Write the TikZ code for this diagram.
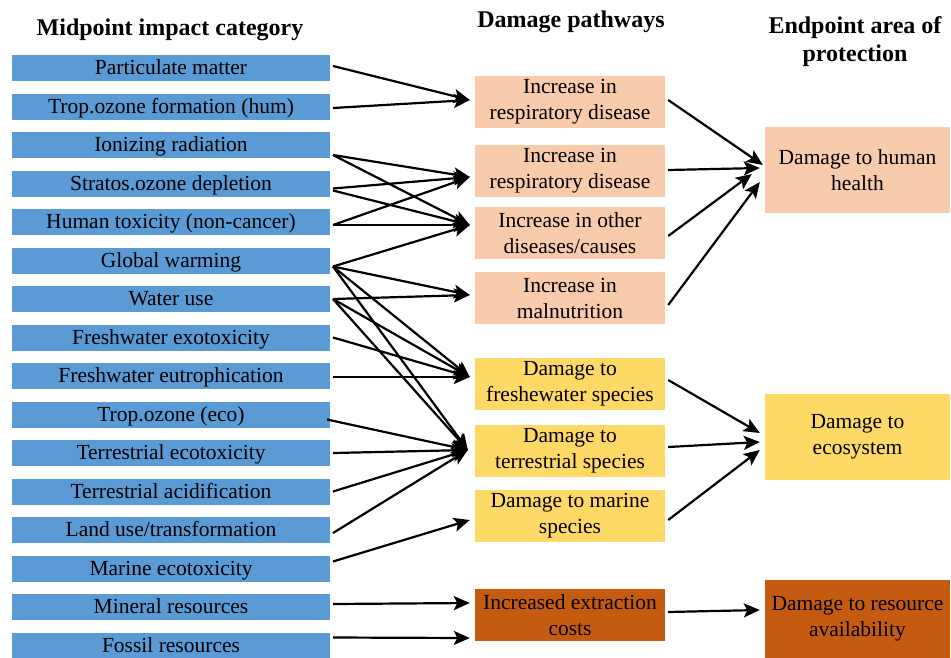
\documentclass[tikz,border=0pt]{standalone}
\usepackage{fontspec}
\setmainfont{Liberation Serif}
\usetikzlibrary{positioning,arrows.meta}

\definecolor{midblue}{RGB}{91,155,213}
\definecolor{humanpeach}{RGB}{248,203,173}
\definecolor{ecoyellow}{RGB}{255,217,102}
\definecolor{resorange}{RGB}{197,90,17}

\begin{document}
\begin{tikzpicture}[x=1pt, y=-1pt, node distance=12.5pt,
        midbox/.style={fill=midblue, minimum width=318pt, minimum height=26pt, inner sep=0pt,
            outer sep=0pt, text height=16.5pt, text depth=3.5pt, font=\fontsize{21.5}{26}\selectfont},
        pathbox/.style={minimum width=190pt, minimum height=52pt, inner sep=0pt, align=center,
            font=\fontsize{21.5}{26}\selectfont},
        endbox/.style={minimum width=185pt, minimum height=86pt, inner sep=0pt, align=center,
            font=\fontsize{21.5}{26}\selectfont},
        heading/.style={align=center, font=\bfseries\fontsize{24}{28}\selectfont},
        link/.style={line width=2.2pt, -{Stealth[length=16pt, width=14pt, inset=3.5pt]}}]
        \useasboundingbox (0,0) rectangle (951,657);

        % Headings
        \node (h1) [heading] at (170,30) {Midpoint impact category};
        \node (h2) [heading] at (571,22) {Damage pathways};
        \node (h3) [heading] at (855,42) {Endpoint area of\\protection};

        % Midpoint categories
        \node (pm) [midbox] at (171,68) {Particulate matter};
        \node (tohum) [midbox, below=of pm] {Trop.ozone formation (hum)};
        \node (ion) [midbox, below=of tohum] {Ionizing radiation};
        \node (strat) [midbox, below=of ion] {Stratos.ozone depletion};
        \node (htox) [midbox, below=of strat] {Human toxicity (non-cancer)};
        \node (gw) [midbox, below=of htox] {Global warming};
        \node (water) [midbox, below=of gw] {Water use};
        \node (fwexo) [midbox, below=of water] {Freshwater exotoxicity};
        \node (fweut) [midbox, below=of fwexo] {Freshwater eutrophication};
        \node (toeco) [midbox, below=of fweut] {Trop.ozone (eco)};
        \node (tereco) [midbox, below=of toeco] {Terrestrial ecotoxicity};
        \node (teracid) [midbox, below=of tereco] {Terrestrial acidification};
        \node (landuse) [midbox, below=of teracid] {Land use/transformation};
        \node (marine) [midbox, below=of landuse] {Marine ecotoxicity};
        \node (mineral) [midbox, below=of marine] {Mineral resources};
        \node (fossil) [midbox, below=of mineral] {Fossil resources};

        % Damage pathways
        \node (resp1) [pathbox, fill=humanpeach] at (570,102) {Increase in\\respiratory disease};
        \node (resp2) [pathbox, fill=humanpeach] at (570,171) {Increase in\\respiratory disease};
        \node (other) [pathbox, fill=humanpeach] at (570,233) {Increase in other\\diseases/causes};
        \node (malnut) [pathbox, fill=humanpeach] at (570,298) {Increase in\\malnutrition};
        \node (fresh) [pathbox, fill=ecoyellow] at (570,384) {Damage to\\freshewater species};
        \node (terr) [pathbox, fill=ecoyellow] at (570,451) {Damage to\\terrestrial species};
        \node (marsp) [pathbox, fill=ecoyellow] at (570,516) {Damage to marine\\species};
        \node (extr) [pathbox, fill=resorange] at (570,615) {Increased extraction\\costs};

        % Endpoints
        \node (health) [endbox, fill=humanpeach] at (857.5,170) {Damage to human\\health};
        \node (eco) [endbox, fill=ecoyellow] at (857.5,436.5) {Damage to\\ecosystem};
        \node (res) [endbox, fill=resorange, minimum height=78pt] at (857.5,619) {Damage to resource\\availability};

        % Midpoint -> pathway
        \draw[link] ([xshift=3pt, yshift=2pt]pm.east) -- ([xshift=-5pt, yshift=2pt]resp1.west);
        \draw[link] ([xshift=3pt, yshift=-1.5pt]tohum.east) -- ([xshift=-5pt, yshift=2pt]resp1.west);
        \draw[link] ([xshift=3pt, yshift=-10pt]ion.east) -- ([xshift=-5pt, yshift=-6pt]resp2.west);
        \draw[link] ([xshift=3pt, yshift=-10pt]ion.east) -- ([xshift=-5pt, yshift=8pt]other.west);
        \draw[link] ([xshift=3pt, yshift=-5pt]strat.east) -- ([xshift=-5pt, yshift=-6pt]resp2.west);
        \draw[link] ([xshift=3pt, yshift=-7pt]strat.east) -- ([xshift=-5pt, yshift=8pt]other.west);
        \draw[link] ([xshift=3pt, yshift=-3pt]htox.east) -- ([xshift=-5pt, yshift=-6pt]resp2.west);
        \draw[link] ([xshift=3pt, yshift=-3pt]htox.east) -- ([xshift=-5pt, yshift=8pt]other.west);
        \draw[link] ([xshift=3pt, yshift=-6pt]gw.east) -- ([xshift=-5pt, yshift=8pt]other.west);
        \draw[link] ([xshift=3pt, yshift=-6pt]gw.east) -- ([xshift=-5pt, yshift=3pt]malnut.west);
        \draw[link] ([xshift=3pt, yshift=-6pt]gw.east) -- ([xshift=-5pt, yshift=7pt]fresh.west);
        \draw[link] ([xshift=3pt, yshift=-6pt]gw.east) -- ([xshift=-7pt, yshift=1pt]terr.west);
        \draw[link] ([xshift=3pt]water.east) -- ([xshift=-5pt, yshift=3pt]malnut.west);
        \draw[link] ([xshift=3pt]water.east) -- ([xshift=-5pt, yshift=7pt]fresh.west);
        \draw[link] ([xshift=3pt]water.east) -- ([xshift=-7pt, yshift=1pt]terr.west);
        \draw[link] ([xshift=3pt]fwexo.east) -- ([xshift=-5pt, yshift=7pt]fresh.west);
        \draw[link] ([xshift=3pt, yshift=-1pt]fweut.east) -- ([xshift=-5pt, yshift=7pt]fresh.west);
        \draw[link] ([xshift=-3pt, yshift=-5pt]toeco.east) -- ([xshift=-7pt, yshift=1pt]terr.west);
        \draw[link] ([xshift=3pt]tereco.east) -- ([xshift=-7pt, yshift=1pt]terr.west);
        \draw[link] ([xshift=3pt]teracid.east) -- ([xshift=-7pt, yshift=1pt]terr.west);
        \draw[link] ([xshift=3pt, yshift=-3pt]landuse.east) -- ([xshift=-7pt, yshift=1pt]terr.west);
        \draw[link] ([xshift=3pt, yshift=7pt]marine.east) -- ([xshift=-5pt, yshift=-4pt]marsp.west);
        \draw[link] ([xshift=3pt, yshift=3pt]mineral.east) -- ([xshift=-5pt, yshift=12pt]extr.west);
        \draw[link] ([xshift=3pt, yshift=8pt]fossil.east) -- ([xshift=-5pt, yshift=-23pt]extr.west);

        % Pathway -> endpoint
        \draw[link] ([xshift=3pt, yshift=2pt]resp1.east) -- ([xshift=-2pt, yshift=5pt]health.west);
        \draw[link] ([xshift=3pt, yshift=1pt]resp2.east) -- ([xshift=-5pt, yshift=2pt]health.west);
        \draw[link] ([xshift=3pt, yshift=-3pt]other.east) -- ([xshift=-13pt, yshift=-4pt]health.west);
        \draw[link] ([xshift=3pt, yshift=-7pt]malnut.east) -- ([xshift=-5pt, yshift=-12pt]health.west);
        \draw[link] ([xshift=3pt, yshift=4pt]fresh.east) -- ([xshift=-5pt, yshift=3.5pt]eco.west);
        \draw[link] ([xshift=3pt, yshift=4pt]terr.east) -- ([xshift=-5pt, yshift=-5.5pt]eco.west);
        \draw[link] ([xshift=3pt, yshift=-4pt]marsp.east) -- ([xshift=-5pt, yshift=-13.5pt]eco.west);
        \draw[link] ([xshift=3pt, yshift=3pt]extr.east) -- ([xshift=-5pt, yshift=9pt]res.west);

    \end{tikzpicture}
\end{document}
